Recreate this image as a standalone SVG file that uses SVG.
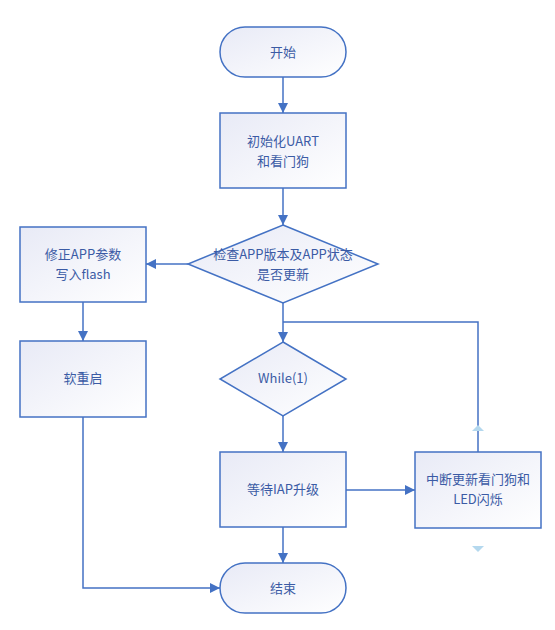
<svg xmlns="http://www.w3.org/2000/svg" width="555" height="630" viewBox="0 0 555 630">
<defs>
<linearGradient id="g" x1="0" y1="0" x2="1" y2="1">
<stop offset="0" stop-color="#e8eaf6"/>
<stop offset="1" stop-color="#ffffff"/>
</linearGradient>
<marker id="ah" viewBox="0 0 10 10" refX="10" refY="5" markerWidth="10" markerHeight="10" markerUnits="userSpaceOnUse" orient="auto">
<path d="M0,0 L10,5 L0,10 z" fill="#4472C4"/>
</marker>
<style>
.n{fill:url(#g);stroke:#4472C4;stroke-width:1.5}
.t{font-family:"Noto Sans CJK SC","Noto Sans",sans-serif;font-size:13px;fill:#3B5BA5;text-anchor:middle}
.c{fill:none;stroke:#4472C4;stroke-width:1.5}
.a{marker-end:url(#ah)}
.ghost{fill:#b4d8ee}
</style>
</defs>
<rect width="555" height="630" fill="#ffffff"/>
<g id="connectors">
<path class="c a" d="M283,77 V113"/>
<path class="c a" d="M283,188 V225"/>
<path class="c a" d="M188,264 H146"/>
<path class="c a" d="M83,302 V341"/>
<path class="c a" d="M283,303 V342"/>
<path class="c" d="M478,452 V322 H283"/>
<path class="c a" d="M283,416 V452"/>
<path class="c a" d="M346,490 H415"/>
<path class="c a" d="M283,527 V563"/>
<path class="c a" d="M83,417 V588 H220"/>
<path class="ghost" d="M472,431 L478,425 L484,431 z"/>
<path class="ghost" d="M472,546 L478,552 L484,546 z"/>
</g>
<g id="start">
<rect class="n" x="220" y="27" width="126" height="50" rx="25"/>
<text class="t" x="283" y="57">开始</text>
</g>
<g id="init">
<rect class="n" x="220" y="113" width="126" height="75"/>
<text class="t" x="283" y="146">初始化UART</text>
<text class="t" x="283" y="166">和看门狗</text>
</g>
<g id="check">
<path class="n" d="M283,225 L378,264 L283,303 L188,264 z"/>
<text class="t" x="283" y="259">检查APP版本及APP状态</text>
<text class="t" x="283" y="279">是否更新</text>
</g>
<g id="fix">
<rect class="n" x="20" y="227" width="126" height="75"/>
<text class="t" x="83" y="259">修正APP参数</text>
<text class="t" x="83" y="279">写入flash</text>
</g>
<g id="reset">
<rect class="n" x="20" y="341" width="126" height="76"/>
<text class="t" x="83" y="383">软重启</text>
</g>
<g id="while">
<path class="n" d="M283,342 L346,379 L283,416 L220,379 z"/>
<text class="t" x="283" y="383">While(1)</text>
</g>
<g id="wait">
<rect class="n" x="220" y="452" width="126" height="75"/>
<text class="t" x="283" y="494">等待IAP升级</text>
</g>
<g id="irq">
<rect class="n" x="415" y="452" width="126" height="76"/>
<text class="t" x="478" y="484">中断更新看门狗和</text>
<text class="t" x="478" y="504">LED闪烁</text>
</g>
<g id="end">
<rect class="n" x="220" y="563" width="126" height="50" rx="25"/>
<text class="t" x="283" y="593">结束</text>
</g>
</svg>
